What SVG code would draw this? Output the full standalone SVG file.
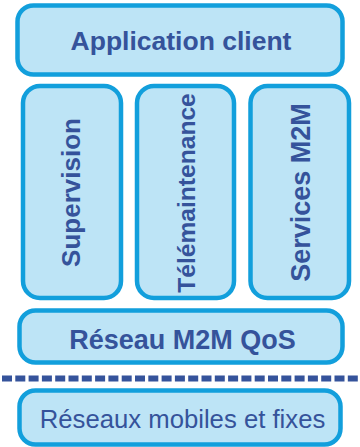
<svg xmlns="http://www.w3.org/2000/svg" width="360" height="447" viewBox="0 0 360 447">
<style>
.box{fill:#bde4f6;stroke:#129fdc;stroke-width:4.5}
.t{font-family:"Liberation Sans",Arial,sans-serif;font-weight:bold;fill:#35539b;text-anchor:middle}
.r{font-family:"Liberation Sans",Arial,sans-serif;fill:#35539b;text-anchor:middle}
</style>
<rect width="360" height="447" fill="#ffffff"/>
<g id="application-client">
<rect class="box" x="17.5" y="5.5" width="325" height="69" rx="16"/>
<text class="t" x="181" y="50" font-size="26.5">Application client</text>
</g>
<g id="supervision">
<rect class="box" x="23" y="86" width="98" height="212" rx="17"/>
<text class="t" font-size="26" transform="translate(80,192.5) rotate(-90)">Supervision</text>
</g>
<g id="telemaintenance">
<rect class="box" x="137" y="86" width="97" height="212" rx="17"/>
<text class="t" font-size="24.6" transform="translate(194.5,193) rotate(-90)">Télémaintenance</text>
</g>
<g id="services-m2m">
<rect class="box" x="250.5" y="86" width="98.5" height="212" rx="17"/>
<text class="t" font-size="27" transform="translate(309.5,192.5) rotate(-90)">Services M2M</text>
</g>
<g id="reseau-m2m-qos">
<rect class="box" x="19.5" y="310.5" width="323" height="52" rx="16"/>
<text class="t" x="182.5" y="349" font-size="27">Réseau M2M QoS</text>
</g>
<g id="connectors">
<line x1="2" y1="378.5" x2="360" y2="378.5" stroke="#35539b" stroke-width="6" stroke-dasharray="10 3.3"/>
</g>
<g id="reseaux-mobiles">
<rect class="box" x="19.5" y="390.5" width="321" height="54" rx="16"/>
<text class="r" x="182.5" y="428" font-size="25.7">Réseaux mobiles et fixes</text>
</g>
</svg>
